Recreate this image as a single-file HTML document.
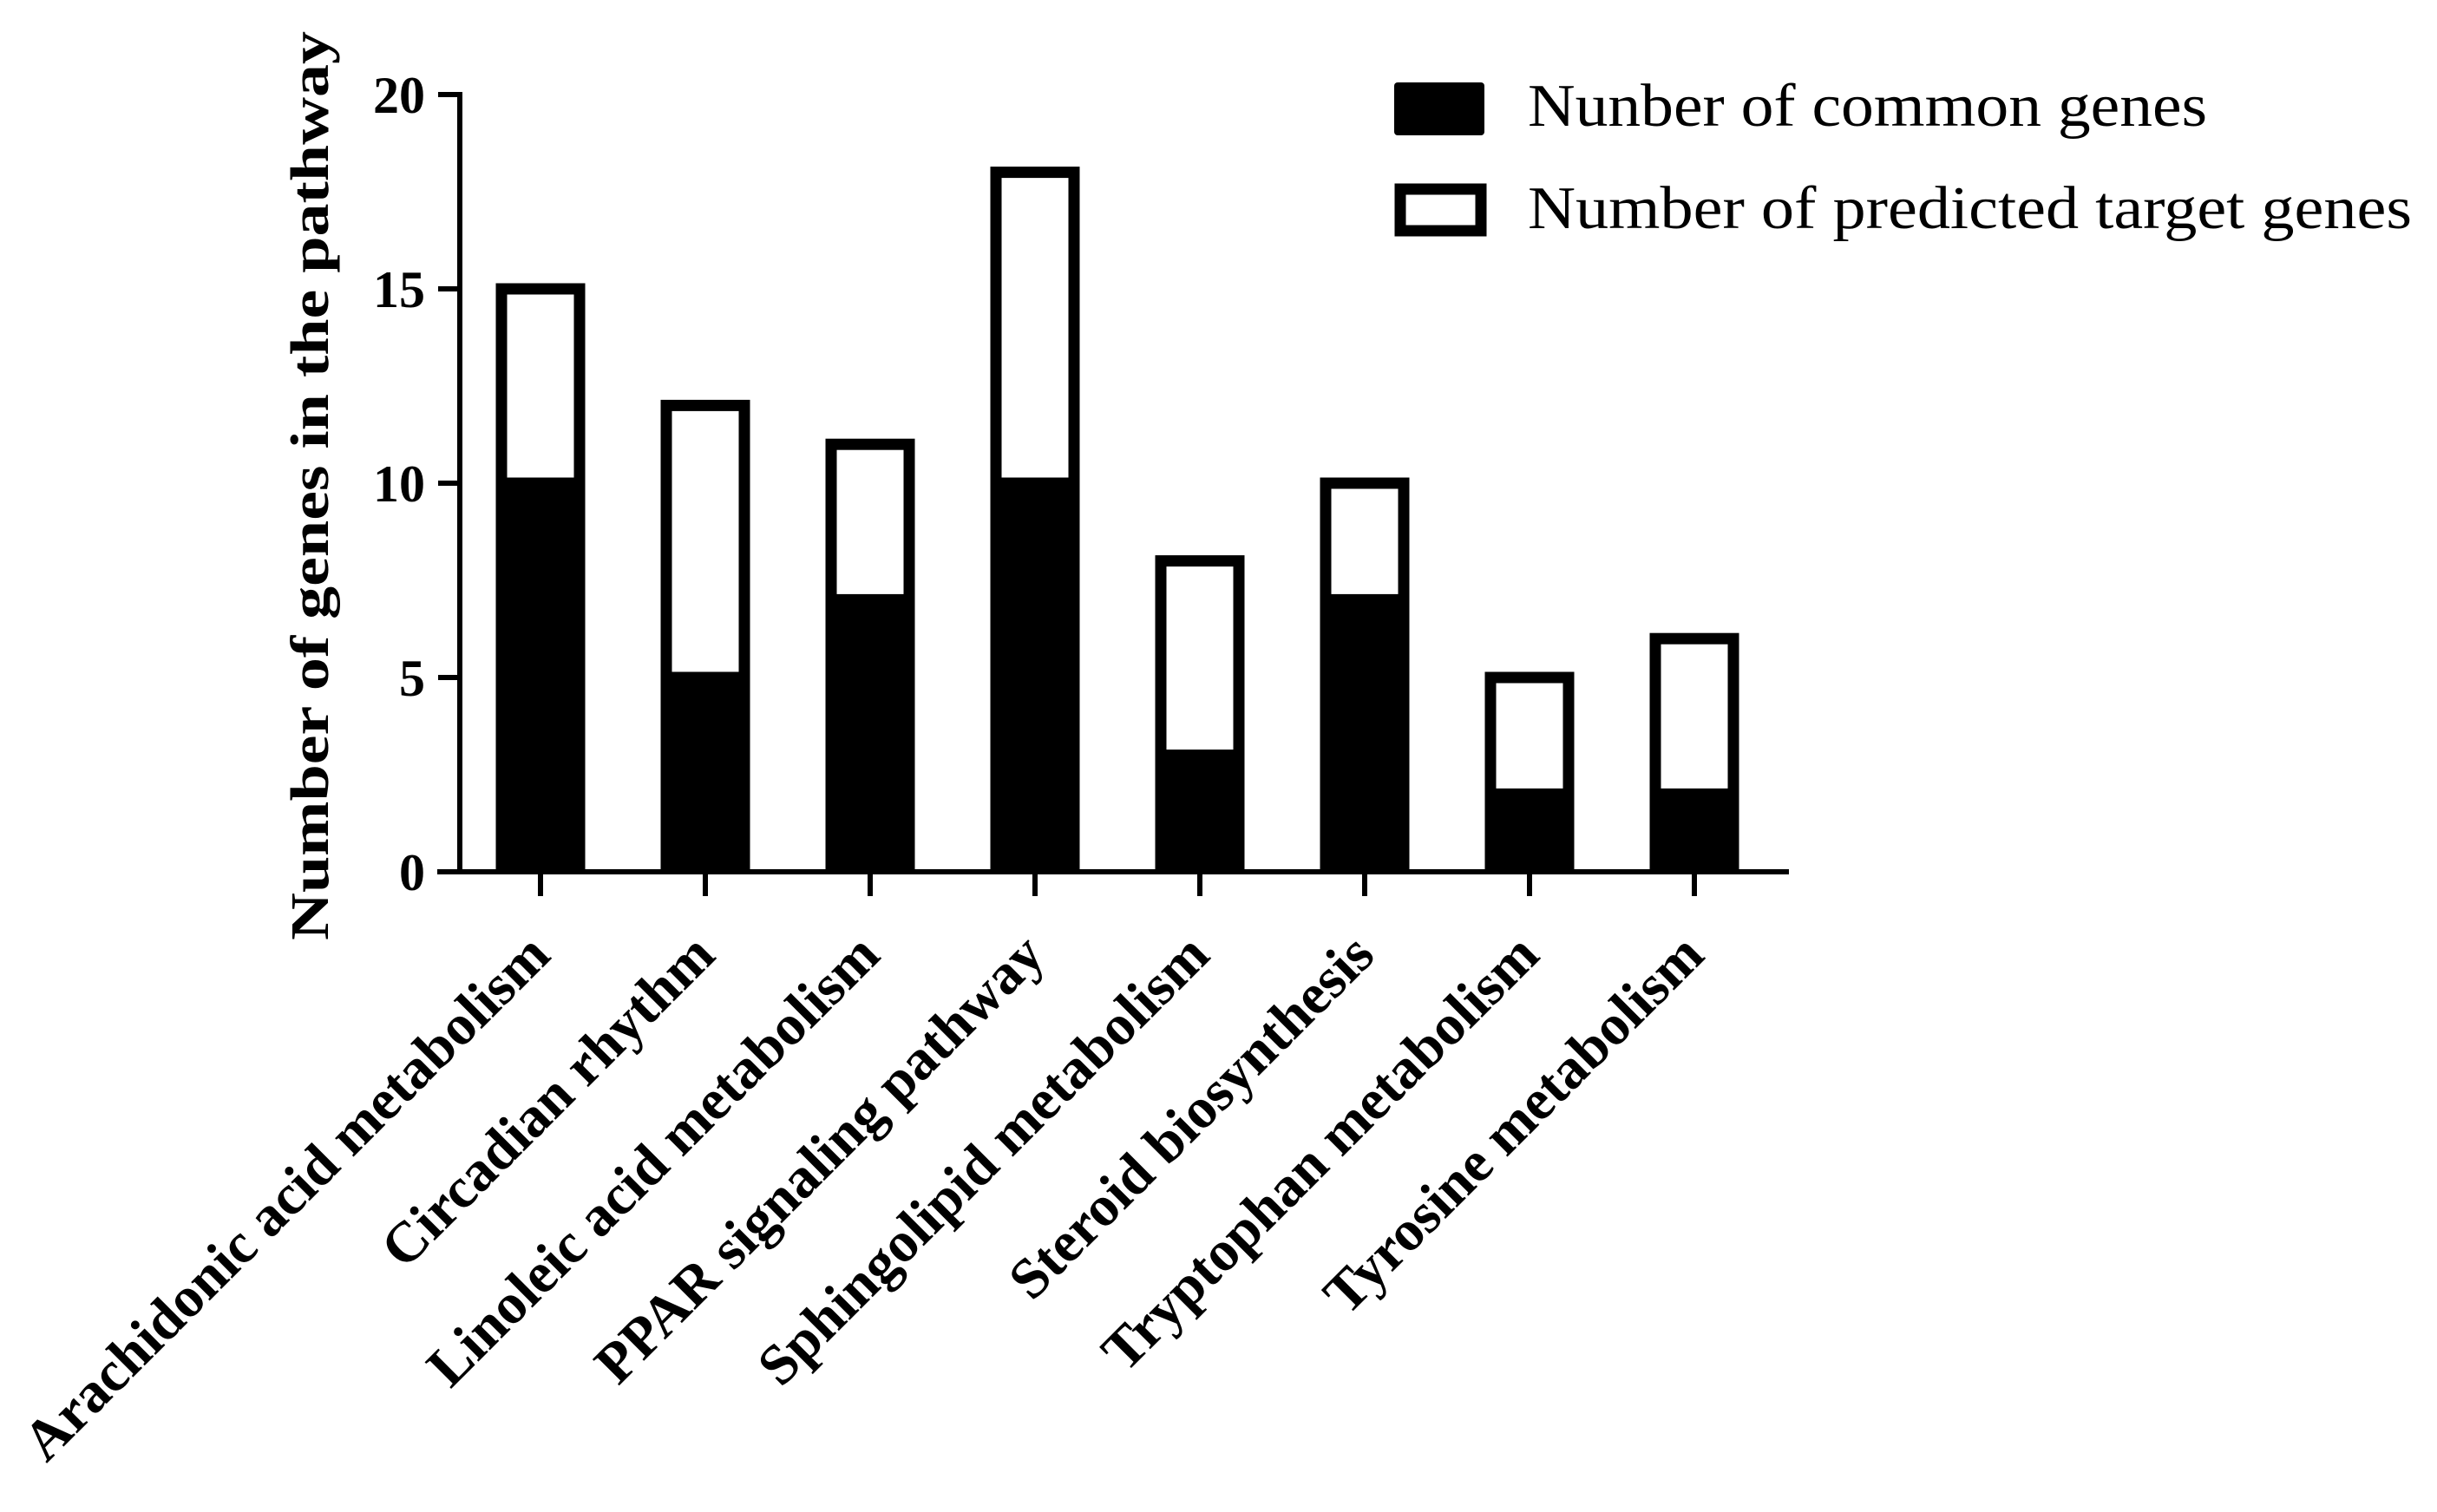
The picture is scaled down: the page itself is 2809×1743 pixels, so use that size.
<!DOCTYPE html>
<html><head><meta charset="utf-8"><style>html,body{margin:0;padding:0;background:#fff}svg{display:block}</style></head>
<body>
<svg id="chart" width="2809" height="1743" viewBox="0 0 2809 1743" xmlns="http://www.w3.org/2000/svg" font-family="'Liberation Serif', serif"></svg>
<script>
const categories = ["Arachidonic acid metabolism","Circadian rhythm","Linoleic acid metabolism","PPAR signaling pathway","Sphingolipid metabolism","Steroid biosynthesis","Tryptophan metabolism","Tyrosine metabolism"];
const commonGenes = [10,5,7,10,3,7,2,2];
const predictedGenes = [5,7,4,8,5,3,3,4];
const yTicks = [0,5,10,15,20];

const NS = "http://www.w3.org/2000/svg";
const svg = document.getElementById('chart');
const X0 = 530, Y0 = 1005, Y20 = 109;
const yS = v => Y0 - (v / 20) * (Y0 - Y20);
const firstC = 623, step = 190, barW = 90;
const xS = i => firstC + i * step;
function mk(tag, attrs, parent) {
  const e = document.createElementNS(NS, tag);
  for (const k in attrs) e.setAttribute(k, attrs[k]);
  (parent || svg).appendChild(e);
  return e;
}
categories.forEach((c, i) => {
  const cx = xS(i);
  const g = mk('g', {});
  
  
  const tot = commonGenes[i] + predictedGenes[i];
  const p = mk('rect', {x: cx - barW/2, y: yS(tot), width: barW, height: yS(commonGenes[i]) - yS(tot), fill: '#fff', stroke: '#000', 'stroke-width': 13}, g);
  
  
  const b = mk('rect', {x: cx - barW/2 - 6.5, y: yS(commonGenes[i]), width: barW + 13, height: Y0 - yS(commonGenes[i]), fill: '#000'}, g);
  
  
  const t = mk('line', {x1: cx, x2: cx, y1: Y0, y2: Y0 + 28, stroke: '#000', 'stroke-width': 6});
  
  
  const lx = cx + 14, ly = 1104;
  const lbl = mk('text', {x: lx, y: ly, 'text-anchor': 'end', 'font-size': 66, 'font-weight': 'bold', transform: `rotate(-45 ${lx} ${ly})`});
  lbl.textContent = c;
  
  
});
const ya = mk('line', {x1: X0, x2: X0, y1: Y20 - 3, y2: Y0 + 3, stroke: '#000', 'stroke-width': 6});


const xa = mk('line', {x1: 504, x2: 2062, y1: Y0, y2: Y0, stroke: '#000', 'stroke-width': 6});


yTicks.forEach(v => {
  const t = mk('line', {x1: 505, x2: X0, y1: yS(v), y2: yS(v), stroke: '#000', 'stroke-width': 6});
  
  
  const l = mk('text', {x: 490, y: yS(v) + 21, 'text-anchor': 'end', 'font-size': 60, 'font-weight': 'bold'});
  l.textContent = v;
  
  
});
const yt = mk('text', {x: 0, y: 0, 'text-anchor': 'middle', 'font-size': 62, 'font-weight': 'bold', textLength: 1048, lengthAdjust: 'spacingAndGlyphs', transform: 'translate(378 560) rotate(-90)'});
yt.textContent = 'Number of genes in the pathway';


const lg = mk('g', {});


const s1 = mk('rect', {x: 1607, y: 95, width: 104, height: 61, rx: 4, fill: '#000'}, lg);


const t1 = mk('text', {x: 1761, y: 145, 'font-size': 70, textLength: 783, lengthAdjust: 'spacingAndGlyphs'}, lg);
t1.textContent = 'Nunber of common genes';


const s2 = mk('rect', {x: 1614, y: 218, width: 93, height: 48, fill: '#fff', stroke: '#000', 'stroke-width': 13}, lg);


const t2 = mk('text', {x: 1761, y: 263, 'font-size': 70, textLength: 1019, lengthAdjust: 'spacingAndGlyphs'}, lg);
t2.textContent = 'Number of predicted target genes';


</script>
</body></html>
